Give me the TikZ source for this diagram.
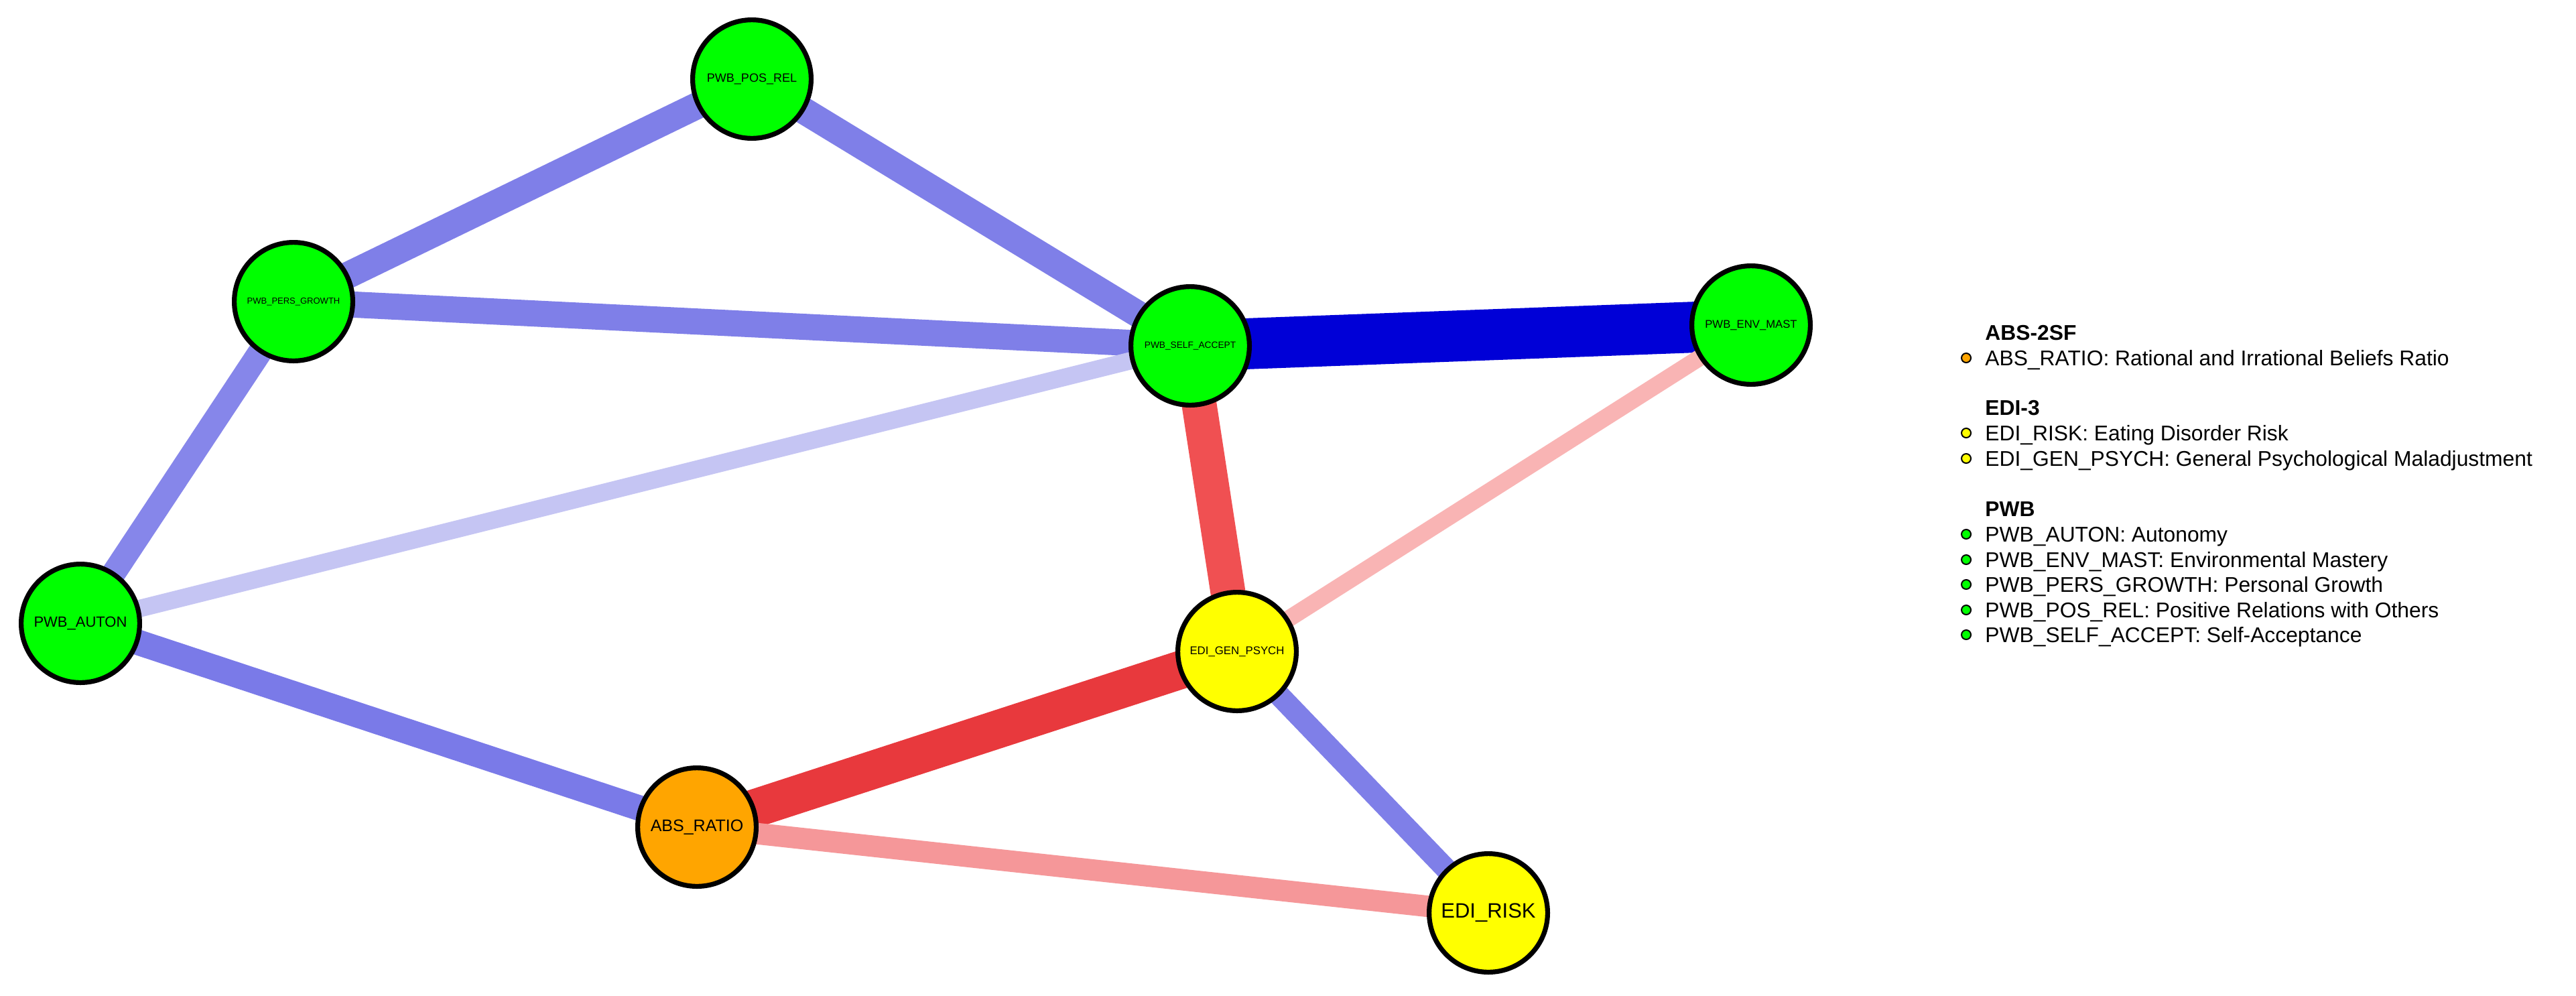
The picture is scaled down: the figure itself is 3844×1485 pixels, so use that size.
\documentclass[tikz,border=0pt]{standalone}
\usepackage{fontspec}
\setmainfont{Liberation Sans}
\usetikzlibrary{backgrounds}
\definecolor{ngreen}{HTML}{00FF00}
\definecolor{nyellow}{HTML}{FFFF00}
\definecolor{norange}{HTML}{FFA500}
\definecolor{bmid}{HTML}{7F7FE8}
\definecolor{bmidl}{HTML}{8686EA}
\definecolor{bmidd}{HTML}{7A7AE8}
\definecolor{blight}{HTML}{C5C5F3}
\definecolor{bdeep}{HTML}{0000D7}
\definecolor{rstrong}{HTML}{E8393D}
\definecolor{rmid}{HTML}{F05052}
\definecolor{rpink}{HTML}{F59799}
\definecolor{rlight}{HTML}{F9B4B4}
\tikzset{
  var/.style={circle, draw=black, line width=3.6pt, minimum size=88.4pt, inner sep=0pt, text=black},
  conn/.style={line cap=butt},
  legdot/.style={circle, draw=black, line width=1pt, minimum size=7pt, inner sep=0pt},
  legtitle/.style={anchor=base west, font=\fontsize{15.9}{18}\selectfont\bfseries, inner sep=0pt},
  legitem/.style={anchor=base west, font=\fontsize{15.9}{18}\selectfont, inner sep=0pt},
}
\begin{document}
\begin{tikzpicture}[x=0.5pt,y=-0.5pt]
\useasboundingbox (0,0) rectangle (3844,1485);
% nodes
\node[var, fill=ngreen, font=\fontsize{9}{10}\selectfont] (posrel) at (1122,118) {PWB\_POS\_REL};
\node[var, fill=ngreen, font=\fontsize{6.5}{7}\selectfont] (pers) at (438,450) {PWB\_PERS\_GROWTH};
\node[var, fill=ngreen, font=\fontsize{6.85}{7}\selectfont] (self) at (1776,516) {PWB\_SELF\_ACCEPT};
\node[var, fill=ngreen, font=\fontsize{8.35}{9}\selectfont] (env) at (2613,485) {PWB\_ENV\_MAST};
\node[var, fill=ngreen, font=\fontsize{11}{12}\selectfont] (auton) at (120,930) {PWB\_AUTON};
\node[var, fill=nyellow, font=\fontsize{8.4}{9}\selectfont] (gen) at (1846,972) {EDI\_GEN\_PSYCH};
\node[var, fill=norange, font=\fontsize{12.5}{13}\selectfont] (abs) at (1040,1234) {ABS\_RATIO};
\node[var, fill=nyellow, font=\fontsize{15.5}{16}\selectfont] (risk) at (2221,1362) {EDI\_RISK};
% connectors
\begin{pgfonlayer}{background}
\fill[white] (0,0) rectangle (3844,1485);
\draw[conn, line width=20pt, bmid] (posrel.center) -- (pers.center);
\draw[conn, line width=20pt, bmid] (posrel.center) -- (self.center);
\draw[conn, line width=19.5pt, bmid] (pers.center) -- (self.center);
\draw[conn, line width=18pt, bmidl] (pers.center) -- (auton.center);
\draw[conn, line width=13pt, blight] (auton.center) -- (self.center);
\draw[conn, line width=19pt, bmidd] (auton.center) -- (abs.center);
\draw[conn, line width=38pt, bdeep] (self.center) -- (env.center);
\draw[conn, line width=26pt, rmid] (self.center) -- (gen.center);
\draw[conn, line width=12.5pt, rlight] (env.center) -- (gen.center);
\draw[conn, line width=28.5pt, rstrong] (abs.center) -- (gen.center);
\draw[conn, line width=16pt, rpink] (abs.center) -- (risk.center);
\draw[conn, line width=16pt, bmid] (gen.center) -- (risk.center);
\end{pgfonlayer}
% legend
\node[legtitle] (t1) at (2962,507) {ABS-2SF};
\node[legitem] (i1) at (2962,545) {ABS\_RATIO: Rational and Irrational Beliefs Ratio};
\node[legdot, fill=norange] (d1) at (2934,534) {};
\node[legtitle] (t2) at (2962,619) {EDI-3};
\node[legitem] (i2) at (2962,657) {EDI\_RISK: Eating Disorder Risk};
\node[legdot, fill=nyellow] (d2) at (2934,646) {};
\node[legitem] (i3) at (2962,695) {EDI\_GEN\_PSYCH: General Psychological Maladjustment};
\node[legdot, fill=nyellow] (d3) at (2934,684) {};
\node[legtitle] (t3) at (2962,770) {PWB};
\node[legitem] (i4) at (2962,808) {PWB\_AUTON: Autonomy};
\node[legdot, fill=ngreen] (d4) at (2934,797) {};
\node[legitem] (i5) at (2962,846) {PWB\_ENV\_MAST: Environmental Mastery};
\node[legdot, fill=ngreen] (d5) at (2934,835) {};
\node[legitem] (i6) at (2962,883) {PWB\_PERS\_GROWTH: Personal Growth};
\node[legdot, fill=ngreen] (d6) at (2934,872) {};
\node[legitem] (i7) at (2962,921) {PWB\_POS\_REL: Positive Relations with Others};
\node[legdot, fill=ngreen] (d7) at (2934,910) {};
\node[legitem] (i8) at (2962,958) {PWB\_SELF\_ACCEPT: Self-Acceptance};
\node[legdot, fill=ngreen] (d8) at (2934,947) {};
\end{tikzpicture}
\end{document}
